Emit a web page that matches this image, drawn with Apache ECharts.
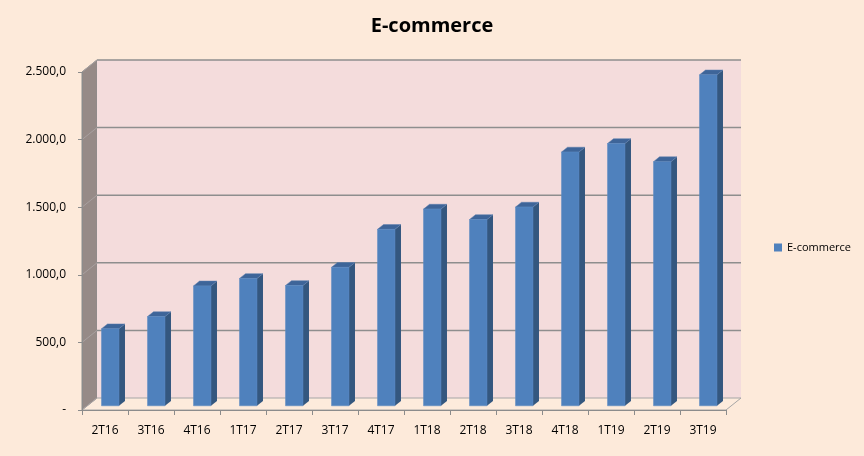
<!DOCTYPE html>
<html>
<head>
<meta charset="utf-8">
<script src="https://cdn.jsdelivr.net/npm/echarts@6/dist/echarts.min.js"></script>
<style>html,body{margin:0;padding:0;background:#FDEADA;}#c{width:864px;height:456px;}</style>
</head>
<body>
<div id="c"></div>
<script>
var categories = ['2T16','3T16','4T16','1T17','2T17','3T17','4T17','1T18','2T18','3T18','4T18','1T19','2T19','3T19'];
var ecommerce = [570, 660, 887, 942, 890, 1024, 1305, 1455, 1378, 1470, 1877, 1940, 1806, 2448];
var yTicks = [0, 500, 1000, 1500, 2000, 2500];

var DX = 15, DY = -12;          // wall depth offset
var F = 0.35;                   // bar front plane as fraction of depth
var BW = 0.38;                  // bar width fraction of band
var BD = 0.4;                   // bar depth fraction

function fmt(v){
  if (v === 0) return '-';
  var s = Math.round(v).toString().replace(/\B(?=(\d{3})+(?!\d))/g, '.');
  return s + ',0';
}

var chart = echarts.init(document.getElementById('c'));
chart.setOption({
  backgroundColor: '#FDEADA',
  animation: false,
  title: {
    text: 'E-commerce', left: 'center', top: 11,
    textStyle: {fontFamily: 'Open Sans', fontWeight: 'bold', fontSize: 20, color: '#000'}
  },
  legend: {
    left: 774, top: 242, padding: 0, itemWidth: 8, itemHeight: 8, itemGap: 4,
    data: [{name: 'E-commerce', icon: 'rect'}],
    textStyle: {fontFamily: 'Open Sans', fontSize: 11, color: '#000'}
  },
  grid: {left: 82, right: 138, top: 72, bottom: 46},
  xAxis: {
    type: 'category', data: categories,
    axisLine: {lineStyle: {color: '#8C8C8C', width: 1}},
    axisTick: {show: true, length: 5, lineStyle: {color: '#8C8C8C'}},
    axisLabel: {margin: 15, fontFamily: 'Open Sans', fontSize: 12, color: '#000'}
  },
  yAxis: {
    type: 'value', min: 0, max: 2500, interval: 500,
    axisLine: {show: true, lineStyle: {color: '#8C8C8C', width: 1}},
    axisTick: {show: true, length: 4, lineStyle: {color: '#8C8C8C'}},
    splitLine: {show: false},
    axisLabel: {margin: 16, fontFamily: 'Open Sans', fontSize: 12, color: '#000', formatter: fmt}
  },
  series: [
    {
      type: 'custom', name: 'walls', z: -1, silent: true,
      data: [[0, 0]],
      renderItem: function (params, api) {
        var cs = params.coordSys;
        var x0 = cs.x, x1 = cs.x + cs.width, yTop = cs.y, yBot = cs.y + cs.height;
        var ch = [];
        ch.push({type: 'polygon', shape: {points: [[x0, yTop], [x0 + DX, yTop + DY], [x0 + DX, yBot + DY], [x0, yBot]]},
          style: {fill: '#968A87', stroke: '#8C8C8C', lineWidth: 1}});
        ch.push({type: 'rect', shape: {x: x0 + DX, y: yTop + DY, width: cs.width, height: cs.height},
          style: {fill: '#F4DCDC'}});
        ch.push({type: 'polygon', shape: {points: [[x0, yBot], [x1, yBot], [x1 + DX, yBot + DY], [x0 + DX, yBot + DY]]},
          style: {fill: '#FDEBDC', stroke: '#A6A6A6', lineWidth: 1}});
        yTicks.forEach(function (t) {
          var y = api.coord([0, t])[1];
          if (t > 0) {
            ch.push({type: 'line', shape: {x1: x0 + DX, y1: y + DY, x2: x1 + DX, y2: y + DY},
              style: {stroke: '#8E8E8E', lineWidth: 1.5}});
          }
          ch.push({type: 'line', shape: {x1: x0, y1: y, x2: x0 + DX, y2: y + DY},
            style: {stroke: '#A8A0A0', lineWidth: 1}});
        });
        return {type: 'group', children: ch};
      }
    },
    {
      type: 'custom', name: 'E-commerce', z: 2,
      itemStyle: {color: '#4F81BD'},
      data: ecommerce.map(function (v, i) { return [i, v]; }),
      encode: {x: 0, y: 1},
      renderItem: function (params, api) {
        var i = api.value(0), v = api.value(1);
        var pt = api.coord([i, v]);
        var p0 = api.coord([i, 0]);
        var band = api.size([1, 0])[0];
        var w = band * BW;
        var ox = DX * F, oy = DY * F;
        var dx = DX * BD, dy = DY * BD;
        var xl = pt[0] + ox - w / 2, xr = xl + w;
        var yt = pt[1] + oy, yb = p0[1] + oy;
        return {
          type: 'group',
          children: [
            {type: 'polygon', shape: {points: [[xr, yt], [xr + dx, yt + dy], [xr + dx, yb + dy], [xr, yb]]},
              style: {fill: '#34577F'}},
            {type: 'polygon', shape: {points: [[xl, yt], [xl + dx, yt + dy], [xr + dx, yt + dy], [xr, yt]]},
              style: {fill: '#3E6599', stroke: '#5A7FAE', lineWidth: 0.5}},
            {type: 'rect', shape: {x: xl, y: yt, width: w, height: yb - yt},
              style: {fill: '#4F81BD', stroke: '#5B8AC2', lineWidth: 0.5}}
          ]
        };
      }
    }
  ]
});
</script>
</body>
</html>
